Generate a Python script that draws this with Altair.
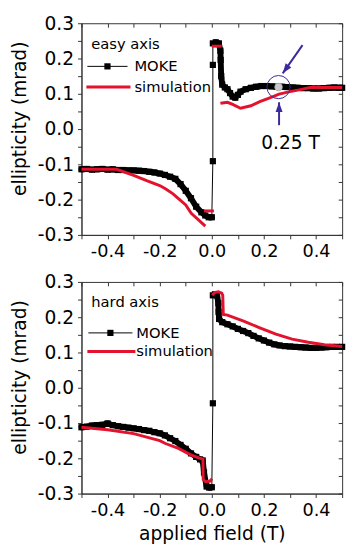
import altair as alt
import pandas as pd

# ---------------- data ----------------
panel_names = ["easy axis", "hard axis"]
series_names = ["MOKE", "simulation"]

# branch: 0 = negative-field branch, 1 = points on the switching jump, 2 = positive-field branch
easy_moke_field = [-0.50, -0.48, -0.46, -0.44, -0.42, -0.40, -0.38, -0.36, -0.34, -0.32,
                   -0.30, -0.28, -0.26, -0.24, -0.22, -0.20, -0.18, -0.16, -0.14, -0.12,
                   -0.10, -0.08, -0.06, -0.04, -0.025, -0.012, 0.0,
                   0.004, 0.004, 0.004, 0.015, 0.027,
                   0.033, 0.034, 0.036, 0.04,
                   0.05, 0.06, 0.07, 0.08, 0.09, 0.10, 0.11, 0.13, 0.15, 0.17,
                   0.19, 0.21, 0.23, 0.25, 0.27, 0.29, 0.31, 0.33, 0.35, 0.37,
                   0.39, 0.41, 0.43, 0.45, 0.47, 0.49, 0.50]
easy_moke_ell = [-0.114, -0.113, -0.115, -0.114, -0.113, -0.115, -0.114, -0.116, -0.116, -0.117,
                 -0.117, -0.118, -0.119, -0.121, -0.123, -0.126, -0.130, -0.135, -0.141, -0.156,
                 -0.175, -0.196, -0.220, -0.236, -0.245, -0.250, -0.250,
                 -0.091, 0.182, 0.243, 0.246, 0.243,
                 0.222, 0.196, 0.150, 0.126,
                 0.118, 0.113, 0.102, 0.092, 0.089, 0.097, 0.106, 0.113, 0.117, 0.120,
                 0.122, 0.122, 0.121, 0.120, 0.120, 0.119, 0.118, 0.117, 0.116, 0.116,
                 0.115, 0.115, 0.116, 0.117, 0.118, 0.117, 0.117]
easy_moke_branch = [0] * 27 + [1] * 3 + [2] * 33

easy_sim_field = [-0.50, -0.365, -0.30, -0.25, -0.20, -0.178, -0.15, -0.128, -0.10, -0.079, -0.05, -0.025,
                  -0.03, 0.008,
                  0.0, 0.038,
                  0.033, 0.06, 0.08, 0.11, 0.15, 0.184, 0.22, 0.258, 0.30, 0.34, 0.376, 0.50]
easy_sim_ell = [-0.114, -0.114, -0.131, -0.146, -0.160, -0.169, -0.183, -0.197, -0.215, -0.239, -0.258, -0.275,
                -0.232, -0.232,
                0.235, 0.235,
                0.073, 0.076, 0.070, 0.059, 0.066, 0.078, 0.088, 0.099, 0.106, 0.112, 0.118, 0.118]
easy_sim_seg = [0] * 12 + [1] * 2 + [2] * 2 + [3] * 12

hard_moke_field = [-0.50, -0.48, -0.46, -0.44, -0.42, -0.40, -0.38, -0.36, -0.34, -0.32,
                   -0.30, -0.28, -0.26, -0.24, -0.22, -0.20, -0.18, -0.16, -0.14, -0.12,
                   -0.10, -0.08, -0.06, -0.045, -0.035, -0.03, -0.02, -0.01, 0.0,
                   0.004, 0.004, 0.012, 0.02,
                   0.025, 0.026, 0.028,
                   0.04, 0.06, 0.08, 0.10, 0.12, 0.14, 0.16, 0.18, 0.20, 0.22,
                   0.24, 0.26, 0.28, 0.30, 0.32, 0.34, 0.36, 0.38, 0.40, 0.42,
                   0.44, 0.46, 0.48, 0.50]
hard_moke_ell = [-0.112, -0.110, -0.107, -0.106, -0.105, -0.101, -0.106, -0.109, -0.111, -0.113,
                 -0.115, -0.117, -0.120, -0.122, -0.126, -0.129, -0.135, -0.143, -0.151, -0.162,
                 -0.173, -0.186, -0.196, -0.203, -0.206, -0.240, -0.280, -0.283, -0.282,
                 -0.044, 0.262, 0.265, 0.262,
                 0.240, 0.215, 0.195,
                 0.186, 0.180, 0.174, 0.167, 0.161, 0.155, 0.147, 0.140, 0.134, 0.128,
                 0.123, 0.120, 0.118, 0.117, 0.116, 0.115, 0.114, 0.113, 0.113, 0.114,
                 0.115, 0.116, 0.116, 0.116]
hard_moke_branch = [0] * 29 + [1] * 2 + [2] * 29

hard_sim_field = [-0.50, -0.40, -0.30, -0.25, -0.20, -0.178, -0.128, -0.079, -0.05, -0.034, -0.033, -0.025, -0.008, 0.001,
                  0.002, 0.01, 0.025, 0.038, 0.042, 0.044, 0.06, 0.122, 0.184, 0.246, 0.308, 0.37, 0.432, 0.50]
hard_sim_ell = [-0.112, -0.119, -0.130, -0.140, -0.150, -0.158, -0.172, -0.191, -0.199, -0.202, -0.260, -0.266, -0.265, -0.258,
                0.262, 0.270, 0.272, 0.268, 0.262, 0.208, 0.206, 0.189, 0.170, 0.152, 0.138, 0.129, 0.122, 0.117]
hard_sim_seg = [0] * 14 + [1] * 14

# annotation (easy axis): marked point at 0.25 T and two arrows pointing to it
mark_field = [0.256]
mark_ell = [0.119]
mark_text = ["0.25 T"]
mark_text_field = [0.302]
mark_text_ell = [-0.039]
arrow_tail_field = [0.348, 0.258]
arrow_tail_ell = [0.238, 0.011]
arrow_tip_field = [0.272, 0.258]
arrow_tip_ell = [0.158, 0.076]

x_tick_values = [-0.5, -0.4, -0.3, -0.2, -0.1, 0.0, 0.1, 0.2, 0.3, 0.4, 0.5]
y_tick_values = [-0.3, -0.25, -0.2, -0.15, -0.1, -0.05, 0.0, 0.05, 0.1, 0.15, 0.2, 0.25, 0.3]

# ---------------- styling ----------------
FONT = "DejaVu Sans"
RED = "#e3132e"
BLUE = "#3b2a9c"
AX = "#333333"
W, H = 266, 216

XS = alt.Scale(domain=[-0.5, 0.5], nice=False, zero=False)
YS = alt.Scale(domain=[-0.3, 0.3], nice=False, zero=False)

x_label_expr = ("abs(round(datum.value * 10)) % 2 == 0 ? "
                "replace(format(datum.value, '.1f'), '\u2212', '-') : ''")
y_label_expr = ("abs(round(datum.value * 20)) % 2 == 0 ? "
                "replace(format(datum.value, '.1f'), '\u2212', '-') : ''")


def panel(name, moke_f, moke_e, moke_b, sim_f, sim_e, sim_s, rows_y, sym_x, show_xtitle, annotate):
    moke = pd.DataFrame({"field": moke_f, "ell": moke_e, "branch": moke_b,
                         "i": list(range(len(moke_f)))})
    sim = pd.DataFrame({"field": sim_f, "ell": sim_e, "seg": sim_s, "i": list(range(len(sim_f)))})

    x_main = alt.X("field:Q", scale=XS, axis=alt.Axis(
        orient="bottom", values=x_tick_values, labelExpr=x_label_expr, tickSize=4,
        labelPadding=4, labelFontSize=18, title="applied field (T)" if show_xtitle else None,
        titlePadding=6))
    y_main = alt.Y("ell:Q", scale=YS, axis=alt.Axis(
        orient="left", values=y_tick_values, labelExpr=y_label_expr, tickSize=4,
        labelPadding=4, labelFontSize=19, title="ellipticity (mrad)", titlePadding=8,
        titleY=97))

    base_line = alt.Chart(moke).mark_line(color="black", strokeWidth=1).encode(
        x=x_main, y=y_main, order="i:Q")

    frame_ticks = alt.Chart(moke).mark_point(opacity=0).encode(
        x=alt.X("field:Q", scale=XS, axis=alt.Axis(
            orient="bottom", offset=-H, values=x_tick_values, labels=False, domain=False,
            tickSize=4, title=None)),
        y=alt.Y("ell:Q", scale=YS, axis=alt.Axis(
            orient="left", offset=-W, values=y_tick_values, labels=False, domain=False,
            tickSize=4, title=None)))

    xn = alt.X("field:Q", scale=XS, axis=None)
    yn = alt.Y("ell:Q", scale=YS, axis=None)

    band = alt.Chart(moke).transform_filter("datum.branch != 1").mark_line(
        color="black", strokeWidth=6, strokeJoin="round", strokeCap="round").encode(
        x=xn, y=yn, detail="branch:N", order="i:Q")
    pts = alt.Chart(moke).mark_square(color="black", size=40, opacity=1).encode(x=xn, y=yn)
    sim_line = alt.Chart(sim).mark_line(color=RED, strokeWidth=3).encode(
        x=xn, y=yn, detail="seg:N", order="i:Q")

    # legend (drawn inside the plot, top left)
    t_df = pd.DataFrame({"t": [name]})
    m_df = pd.DataFrame({"t": [series_names[0]]})
    s_df = pd.DataFrame({"t": [series_names[1]]})
    leg_title = alt.Chart(t_df).mark_text(align="left", baseline="middle", fontSize=15, font=FONT,
                                          color="black").encode(
        x=alt.value(10), y=alt.value(rows_y[0]), text="t:N")
    leg_m_rule = alt.Chart(m_df).mark_rule(color="black", strokeWidth=1).encode(
        x=alt.value(sym_x[0]), x2=alt.value(sym_x[1]), y=alt.value(rows_y[1]))
    leg_m_sq = alt.Chart(m_df).mark_square(color="black", size=40, opacity=1).encode(
        x=alt.value((sym_x[0] + sym_x[1]) / 2), y=alt.value(rows_y[1]))
    leg_m_txt = alt.Chart(m_df).mark_text(align="left", baseline="middle", fontSize=15, font=FONT,
                                          color="black").encode(
        x=alt.value(sym_x[2]), y=alt.value(rows_y[1]), text="t:N")
    leg_s_rule = alt.Chart(s_df).mark_rule(color=RED, strokeWidth=3).encode(
        x=alt.value(sym_x[0] - 1), x2=alt.value(sym_x[1] + 3), y=alt.value(rows_y[2]))
    leg_s_txt = alt.Chart(s_df).mark_text(align="left", baseline="middle", fontSize=15, font=FONT,
                                          color="black").encode(
        x=alt.value(sym_x[2]), y=alt.value(rows_y[2]), text="t:N")

    layers = [base_line, frame_ticks, band, pts, sim_line,
              leg_title, leg_m_rule, leg_m_sq, leg_m_txt, leg_s_rule, leg_s_txt]

    if annotate:
        mk = pd.DataFrame({"field": mark_field, "ell": mark_ell})
        ring = alt.Chart(mk).mark_point(shape="circle", size=560, filled=False, color=BLUE,
                                        strokeWidth=1, opacity=1).encode(x=xn, y=yn)
        dot = alt.Chart(mk).mark_point(shape="circle", size=64, filled=True, fill="#c9c9c9",
                                       stroke="#a0a0a0", strokeWidth=0.6, opacity=1).encode(x=xn, y=yn)
        lab = alt.Chart(pd.DataFrame({"field": mark_text_field, "ell": mark_text_ell, "t": mark_text})
                        ).mark_text(fontSize=19, font=FONT, color="black", baseline="middle").encode(
            x=xn, y=yn, text="t:N")
        arr = pd.DataFrame({"field": arrow_tail_field, "ell": arrow_tail_ell,
                            "f2": arrow_tip_field, "e2": arrow_tip_ell})
        shafts = alt.Chart(arr).mark_rule(color=BLUE, strokeWidth=2).encode(
            x=xn, y=yn, x2="f2:Q", y2="e2:Q")
        head_path = "M0,0L0.85,2.4L-0.85,2.4Z"
        head1 = alt.Chart(arr.iloc[[0]]).mark_point(shape=head_path, size=70, filled=True, color=BLUE,
                                                    opacity=1, angle=216).encode(
            x=alt.X("f2:Q", scale=XS, axis=None), y=alt.Y("e2:Q", scale=YS, axis=None))
        head2 = alt.Chart(arr.iloc[[1]]).mark_point(shape=head_path, size=70, filled=True, color=BLUE,
                                                    opacity=1, angle=0).encode(
            x=alt.X("f2:Q", scale=XS, axis=None), y=alt.Y("e2:Q", scale=YS, axis=None))
        layers += [ring, dot, shafts, head1, head2, lab]

    return alt.layer(*layers).resolve_axis(x="independent", y="independent").properties(
        width=W, height=H)


top = panel(panel_names[0], easy_moke_field, easy_moke_ell, easy_moke_branch,
            easy_sim_field, easy_sim_ell, easy_sim_seg, [21, 44, 65], [6, 47, 54], False, True)
bottom = panel(panel_names[1], hard_moke_field, hard_moke_ell, hard_moke_branch,
               hard_sim_field, hard_sim_ell, hard_sim_seg, [21, 52, 71], [7, 52, 56], True, False)

chart = alt.vconcat(top, bottom, spacing=11).properties(
    padding={"left": 2, "top": 0, "right": 0, "bottom": 0}
).configure_view(stroke=AX, strokeWidth=1).configure_axis(
    domainColor=AX, tickColor=AX, labelFont=FONT, titleFont=FONT, labelFontSize=18,
    titleFontSize=19, labelColor="black", titleColor="black", titleFontWeight="normal",
    grid=False, tickWidth=1, domainWidth=1)

chart.save("out.html", embed_options={"renderer": "svg", "actions": False})
